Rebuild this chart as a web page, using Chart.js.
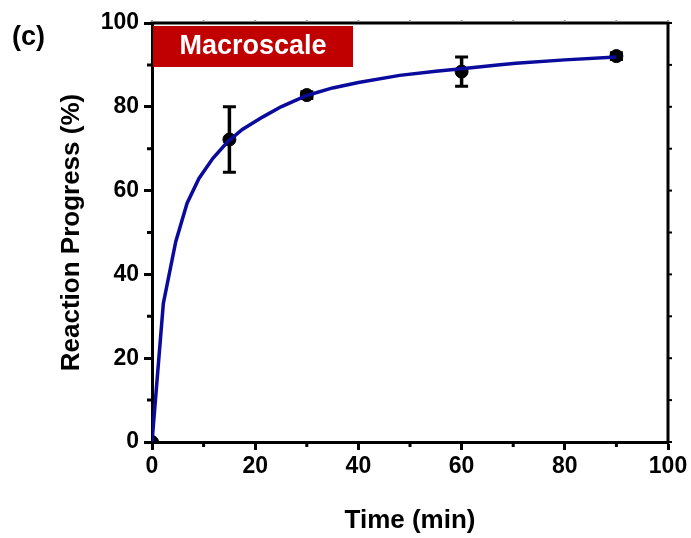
<!DOCTYPE html>
<html>
<head>
<meta charset="utf-8">
<script src="https://cdn.jsdelivr.net/npm/chart.js@4.4.1/dist/chart.umd.min.js"></script>
<style>
  html, body { margin: 0; padding: 0; background: #fff; }
  #wrap { width: 691px; height: 538px; }
</style>
</head>
<body>
<div id="wrap"><canvas id="progressChart" width="691" height="538"></canvas></div>
<script>
// Measured samples (time in min, progress in %, symmetric error)
const sampleTime = [0, 15, 30, 60, 90];
const sampleProgress = [0, 72.2, 82.8, 88.4, 92.1];
const sampleError = [0, 7.8, 0.8, 3.5, 0.8];

// Fitted curve
const fitTime = [0, 2.2, 4.6, 6.8, 9.1, 11.8, 14.7, 17.5, 21.5, 25, 30, 35, 40, 48, 55, 60, 67, 70.5, 80, 90];
const fitProgress = [0, 33.1, 47.8, 57.0, 62.9, 67.7, 71.7, 74.6, 77.6, 80.0, 82.7, 84.5, 85.8, 87.5, 88.5, 89.1, 90.0, 90.4, 91.2, 91.9];

const xTicks = [0, 20, 40, 60, 80, 100];
const yTicks = [0, 20, 40, 60, 80, 100];
const minorTicks = [10, 30, 50, 70, 90];

const FONT = "'Liberation Sans', Arial, Helvetica, sans-serif";

// error bars, frame, minor ticks and labels
const decorations = {
    id: 'decorations',
    beforeDatasetsDraw(chart) {
        const { ctx, scales: { x, y } } = chart;
        ctx.save();
        ctx.strokeStyle = '#000';
        ctx.lineWidth = 3.5;
        sampleTime.forEach((t, i) => {
            if (!sampleError[i]) return;
            const px = x.getPixelForValue(t);
            const top = y.getPixelForValue(sampleProgress[i] + sampleError[i]);
            const bot = y.getPixelForValue(sampleProgress[i] - sampleError[i]);
            ctx.beginPath();
            ctx.moveTo(px, top); ctx.lineTo(px, bot);
            ctx.stroke();
            ctx.lineWidth = 3;
            ctx.beginPath();
            ctx.moveTo(px - 6.5, top); ctx.lineTo(px + 6.5, top);
            ctx.moveTo(px - 6.5, bot); ctx.lineTo(px + 6.5, bot);
            ctx.stroke();
            ctx.lineWidth = 3.5;
        });
        ctx.restore();
    },
    afterDraw(chart) {
        const { ctx, chartArea: a, scales: { x, y } } = chart;
        ctx.save();
        ctx.strokeStyle = '#000';
        ctx.lineWidth = 3;
        // top and right frame
        ctx.beginPath();
        ctx.moveTo(a.left - 1.5, a.top); ctx.lineTo(a.right, a.top); ctx.lineTo(a.right, a.bottom + 1.5);
        ctx.stroke();

        // minor ticks on left and bottom
        minorTicks.forEach(v => {
            const py = y.getPixelForValue(v);
            const px = x.getPixelForValue(v);
            ctx.beginPath();
            ctx.moveTo(a.left - 5, py); ctx.lineTo(a.left, py);
            ctx.moveTo(px, a.bottom); ctx.lineTo(px, a.bottom + 5);
            ctx.stroke();
        });

        // small outward ticks on right and top
        ctx.lineWidth = 2;
        for (let v = 0; v <= 100; v += 10) {
            const py = y.getPixelForValue(v);
            ctx.beginPath();
            ctx.moveTo(a.right, py); ctx.lineTo(a.right + 4, py);
            ctx.stroke();
        }
        ctx.strokeStyle = '#999';
        for (let v = 0; v <= 100; v += 10) {
            const px = x.getPixelForValue(v);
            ctx.beginPath();
            ctx.moveTo(px, a.top - 1.5); ctx.lineTo(px, a.top - 3);
            ctx.stroke();
        }

        // label box
        ctx.fillStyle = '#c00000';
        ctx.fillRect(a.left + 1, a.top + 3, 200, 41);
        ctx.fillStyle = '#fff';
        ctx.font = 'bold 27px ' + FONT;
        ctx.textAlign = 'center';
        ctx.textBaseline = 'middle';
        ctx.fillText('Macroscale', a.left + 101, a.top + 24);

        // panel letter
        ctx.fillStyle = '#000';
        ctx.textAlign = 'left';
        ctx.fillText('(c)', 12, 38);
        ctx.restore();
    }
};

const ctx = document.getElementById('progressChart').getContext('2d');
new Chart(ctx, {
    type: 'scatter',
    data: {
        datasets: [{
            type: 'line',
            label: 'Fit',
            data: fitTime.map((t, i) => ({ x: t, y: fitProgress[i] })),
            borderColor: '#0a0a9c',
            borderWidth: 3.5,
            pointRadius: 0,
            tension: 0,
            fill: false
        }, {
            label: 'Macroscale',
            data: sampleTime.map((t, i) => ({ x: t, y: sampleProgress[i] })),
            backgroundColor: '#000',
            borderColor: '#000',
            pointRadius: 6.5,
            pointHoverRadius: 6.5,
            clip: 0
        }]
    },
    options: {
        responsive: false,
        animation: false,
        events: [],
        layout: { padding: { top: 23, right: 23, left: 0, bottom: 0 } },
        plugins: { legend: { display: false }, tooltip: { enabled: false } },
        scales: {
            x: {
                type: 'linear',
                min: 0,
                max: 100,
                afterBuildTicks: s => { s.ticks = xTicks.map(v => ({ value: v })); },
                afterFit: s => { s.height = 96; },
                border: { display: true, width: 3, color: '#000' },
                grid: { drawOnChartArea: false, drawTicks: true, tickLength: 8, tickWidth: 3, tickColor: '#000' },
                ticks: { color: '#000', padding: 3, font: { family: FONT, size: 23, weight: 'bold' } },
                title: {
                    display: true,
                    text: 'Time (min)',
                    color: '#000',
                    padding: { bottom: 2 },
                    font: { family: FONT, size: 26, weight: 'bold' }
                }
            },
            y: {
                type: 'linear',
                min: 0,
                max: 100,
                afterBuildTicks: s => { s.ticks = yTicks.map(v => ({ value: v })); },
                afterFit: s => { s.width = 152; },
                border: { display: true, width: 3, color: '#000' },
                grid: { drawOnChartArea: false, drawTicks: true, tickLength: 8, tickWidth: 3, tickColor: '#000' },
                ticks: { color: '#000', padding: 5, font: { family: FONT, size: 23, weight: 'bold' } },
                title: {
                    display: true,
                    text: 'Reaction Progress (%)',
                    color: '#000',
                    padding: { top: 56 },
                    font: { family: FONT, size: 26, weight: 'bold' }
                }
            }
        }
    },
    plugins: [decorations]
});
</script>
</body>
</html>
